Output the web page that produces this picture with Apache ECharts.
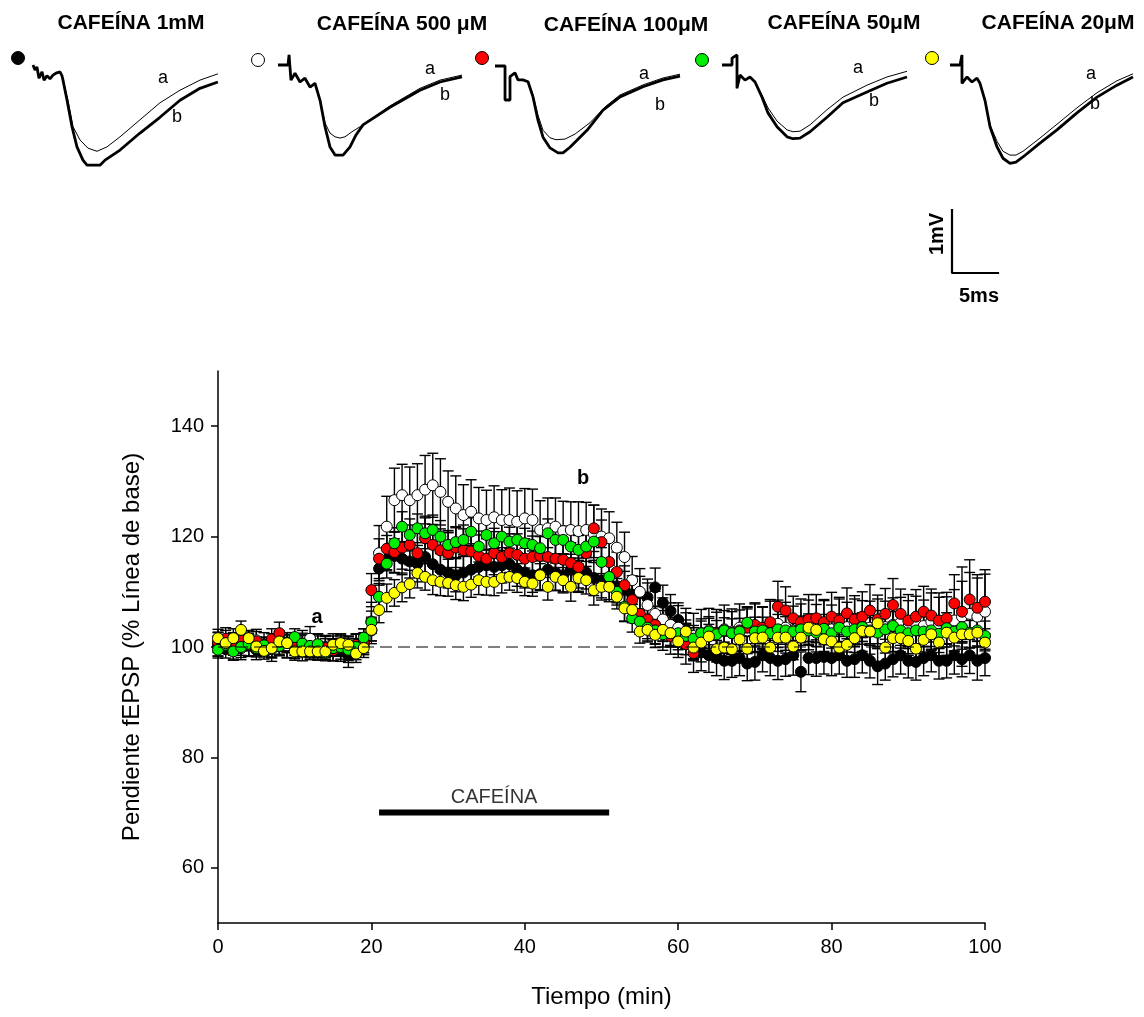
<!DOCTYPE html>
<html>
<head>
<meta charset="utf-8">
<script src="https://cdn.jsdelivr.net/npm/echarts@6/dist/echarts.min.js"></script>
<style>
  html, body { margin: 0; padding: 0; background: #fff; }
  #chart { width: 1144px; height: 1017px; }
</style>
</head>
<body>
<div id="chart"></div>
<script>
// fEPSP slope (% of baseline), one sample per minute, 0–100 min
const cafeina1mM = [
  100.2, 99.6, 100.5, 99.8, 100.3, 99.5, 100.1, 99.7, 100.4, 99.9,
  99.6, 100.2, 99.8, 99.4, 100.0, 99.5, 99.2, 98.5, 99.6, 100.4,
  103.0, 114.2, 117.0, 116.5, 116.0, 115.5, 115.1, 116.3, 115.0, 114.0,
  113.5, 113.0, 113.5, 114.0, 114.5, 114.8, 114.5, 114.8, 115.0, 114.0,
  113.5, 113.0, 113.2, 114.0, 113.5, 113.0, 114.0, 113.0, 113.5, 112.5,
  112.0, 111.5, 111.0, 110.5, 109.5, 109.7, 109.0, 110.8, 108.0, 106.5,
  104.9, 103.0, 100.5, 99.0, 98.5, 98.0, 97.5, 97.5, 98.0, 97.0,
  97.3, 98.5, 98.0, 97.5, 97.8, 98.5, 95.5, 98.0, 98.0, 98.2,
  98.0, 98.5, 97.5, 97.8, 98.5, 97.5, 96.5, 97.0, 97.8, 98.5,
  97.5, 97.3, 98.0, 98.5, 97.5, 97.5, 98.5, 97.8, 98.5, 97.5,
  98.0
];
const cafeina500uM = [
  100.5, 101.0, 100.2, 99.8, 100.6, 101.2, 100.4, 99.9, 100.8, 100.3,
  100.0, 100.6, 101.5, 100.2, 99.8, 100.4, 100.0, 99.6, 100.3, 101.0,
  104.6, 117.0, 121.8, 126.6, 127.5, 126.6, 127.5, 128.5, 129.3, 128.1,
  126.3, 125.1, 123.9, 124.5, 123.3, 123.0, 123.5, 123.0, 123.0, 122.7,
  123.3, 123.0, 121.2, 121.5, 121.8, 121.0, 121.2, 121.0, 121.2, 120.5,
  120.0, 119.7, 118.0, 116.3, 112.1, 110.0, 107.6, 106.0, 105.0, 104.0,
  103.5, 102.8, 102.0, 102.5, 103.0, 102.6, 103.2, 102.8, 103.5, 103.0,
  103.4, 103.0, 103.8, 104.2, 103.5, 103.0, 103.6, 104.0, 103.4, 103.8,
  103.2, 104.0, 103.6, 104.4, 103.8, 103.5, 104.2, 103.6, 104.0, 104.4,
  103.6, 104.2, 103.8, 104.6, 104.0, 103.8, 104.8, 105.5, 106.0, 105.5,
  106.4
];
const cafeina100uM = [
  100.8, 101.5, 100.6, 101.2, 100.4, 101.0, 100.2, 101.4, 102.5, 100.8,
  100.2, 100.6, 100.0, 100.4, 99.8, 99.4, 100.2, 99.6, 100.4, 100.8,
  110.3, 116.0, 117.8, 117.2, 118.0, 118.5, 117.0, 119.7, 118.5, 117.5,
  117.0, 118.0, 117.5, 117.3, 116.5, 116.0, 117.0, 116.3, 117.0, 116.7,
  116.0, 116.3, 116.5, 116.3, 116.0, 115.8, 115.2, 114.5, 117.0, 121.5,
  119.0, 115.4, 113.6, 111.2, 108.5, 106.0, 105.0, 104.0, 103.0, 102.0,
  101.5, 100.5, 98.9, 101.0, 102.0, 102.5, 103.0, 102.5, 103.0, 103.5,
  104.0, 103.5, 104.5, 107.3, 106.6, 105.2, 104.5, 105.0, 105.2, 104.5,
  105.5, 104.8, 106.1, 105.0, 105.5, 106.6, 105.0, 106.0, 107.6, 106.0,
  104.8, 105.5, 106.4, 105.7, 104.8, 105.2, 107.9, 106.4, 108.6, 107.1,
  108.2
];
const cafeina50uM = [
  99.5, 100.4, 99.2, 100.0, 100.6, 99.8, 100.3, 99.6, 100.2, 100.8,
  101.8, 100.6, 100.2, 100.5, 99.0, 99.8, 100.0, 99.5, 100.0, 101.7,
  104.5, 109.1, 115.1, 118.8, 121.8, 120.3, 121.5, 120.6, 121.2, 120.0,
  118.5, 119.0, 119.4, 120.9, 118.2, 120.3, 118.8, 120.0, 119.1, 119.4,
  118.8, 118.5, 117.9, 120.6, 119.4, 119.4, 118.2, 117.6, 118.2, 119.1,
  115.4, 112.7, 110.0, 107.3, 105.2, 104.6, 103.5, 103.0, 102.3, 102.5,
  102.5, 102.0, 101.5, 102.5, 102.8, 102.3, 103.0, 102.5, 102.8, 104.4,
  102.8, 103.0, 102.5, 103.2, 103.0, 102.8, 103.2, 103.0, 102.6, 103.3,
  102.5, 103.5, 102.8, 103.2, 103.6, 103.0, 102.6, 103.2, 103.8, 103.0,
  102.5, 103.0, 102.8, 103.0, 102.4, 103.4, 102.8, 103.6, 102.6, 103.0,
  102.0
];
const cafeina20uM = [
  101.6, 100.7, 101.6, 103.1, 101.6, 100.1, 99.3, 99.8, 101.0, 100.7,
  99.2, 99.2, 99.2, 99.2, 99.2, 100.4, 100.7, 100.4, 98.8, 99.8,
  103.1, 106.7, 108.9, 109.8, 110.8, 111.4, 113.4, 112.7, 112.1, 111.8,
  111.6, 111.2, 110.9, 111.3, 112.1, 111.8, 111.8, 112.5, 112.7, 112.5,
  111.8, 111.5, 113.0, 110.9, 112.7, 112.1, 110.9, 112.5, 112.1, 110.3,
  110.9, 110.9, 109.1, 107.0, 106.7, 102.8, 103.1, 102.2, 103.1, 102.5,
  101.0, 102.8, 99.9, 100.8, 101.9, 99.6, 99.9, 99.6, 101.4, 99.7,
  101.6, 101.7, 99.9, 101.7, 101.7, 100.1, 101.7, 103.5, 103.1, 101.4,
  101.0, 99.9, 100.4, 101.6, 102.9, 102.8, 104.3, 99.9, 101.6, 101.6,
  101.1, 99.7, 101.3, 102.3, 100.8, 102.6, 101.7, 102.3, 102.3, 102.6,
  100.8
];

// standard error of each point
const sem1mM = [
  1.8, 1.6, 2.0, 1.7, 1.9, 1.8, 1.6, 1.7, 2.0, 1.8,
  1.7, 1.9, 1.8, 1.6, 1.9, 2.0, 1.8, 2.2, 1.9, 1.8,
  2.4, 3.0, 3.2, 3.1, 2.9, 3.0, 3.3, 3.1, 3.0, 2.9,
  2.8, 3.0, 2.9, 3.1, 3.0, 2.8, 3.0, 3.2, 2.9, 3.0,
  2.8, 3.1, 3.0, 2.9, 3.2, 3.0, 2.8, 3.1, 3.0, 3.2,
  3.1, 3.3, 3.0, 3.2, 3.4, 3.1, 3.3, 3.5, 3.2, 3.0,
  3.1, 3.2, 3.0, 3.3, 3.1, 3.2, 3.4, 3.0, 3.2, 3.1,
  3.3, 3.0, 3.2, 3.4, 3.1, 3.6, 3.6, 3.0, 3.3, 3.1,
  3.2, 3.4, 3.0, 3.3, 3.2, 3.1, 3.3, 3.0, 3.2, 3.4,
  3.1, 3.3, 3.2, 3.0, 3.3, 3.1, 3.4, 3.2, 3.3, 3.5,
  3.2
];
const sem500uM = [
  2.2, 2.0, 2.4, 2.1, 2.3, 2.0, 2.2, 2.5, 2.1, 2.3,
  2.0, 2.4, 2.2, 2.1, 2.3, 2.0, 2.2, 2.4, 2.1, 2.3,
  3.5, 5.0, 5.5, 5.8, 5.6, 6.0, 5.7, 6.2, 5.8, 6.0,
  5.6, 5.9, 5.5, 5.8, 5.6, 5.4, 5.7, 5.5, 5.8, 5.6,
  5.4, 5.6, 5.3, 5.5, 5.2, 5.4, 5.1, 5.3, 5.0, 5.2,
  5.0, 4.8, 4.6, 4.5, 4.3, 4.2, 4.0, 4.1, 3.9, 4.0,
  4.0, 4.2, 4.1, 4.3, 4.0, 4.2, 4.4, 4.1, 4.3, 4.2,
  4.4, 4.2, 4.5, 4.3, 4.6, 4.4, 4.2, 4.5, 4.3, 4.6,
  4.4, 4.7, 4.5, 4.3, 4.6, 4.8, 4.5, 4.7, 4.9, 4.6,
  4.8, 5.0, 4.7, 5.2, 5.0, 5.3, 5.6, 9.0, 7.5, 7.0,
  6.8
];
const sem100uM = [
  1.8, 2.0, 1.7, 1.9, 2.1, 1.8, 1.6, 1.9, 2.0, 1.8,
  1.7, 1.9, 1.8, 2.0, 1.7, 1.9, 1.8, 2.0, 1.9, 1.8,
  3.0, 3.6, 3.8, 3.7, 3.9, 3.6, 3.8, 4.0, 3.7, 3.9,
  3.8, 3.6, 3.9, 3.7, 3.8, 3.6, 3.9, 3.7, 3.5, 3.8,
  3.6, 3.8, 3.5, 3.7, 3.6, 3.9, 3.7, 3.8, 4.0, 4.2,
  4.0, 3.8, 3.6, 3.5, 3.4, 3.3, 3.5, 3.4, 3.6, 3.3,
  3.4, 3.6, 3.5, 3.7, 3.5, 3.8, 3.6, 3.9, 3.7, 3.8,
  4.0, 3.8, 4.1, 4.6, 4.3, 4.0, 4.2, 4.5, 4.3, 4.1,
  4.4, 4.2, 4.6, 4.3, 4.5, 4.7, 4.4, 4.6, 4.8, 4.5,
  4.7, 4.9, 4.6, 4.8, 5.0, 4.7, 5.2, 5.5, 7.2, 6.0,
  5.8
];
const sem50uM = [
  1.5, 1.4, 1.6, 1.5, 1.3, 1.6, 1.4, 1.5, 1.7, 1.4,
  1.5, 1.6, 1.4, 1.5, 1.3, 1.5, 1.6, 1.4, 1.5, 1.6,
  2.0, 2.4, 2.6, 2.8, 2.7, 2.9, 2.6, 2.8, 2.7, 2.9,
  2.6, 2.8, 2.7, 2.5, 2.8, 2.6, 2.7, 2.9, 2.6, 2.8,
  2.7, 2.5, 2.8, 2.6, 2.7, 2.5, 2.8, 2.6, 2.7, 2.9,
  2.6, 2.5, 2.4, 2.6, 2.5, 2.3, 2.4, 2.5, 2.3, 2.4,
  2.5, 2.3, 2.4, 2.6, 2.4, 2.5, 2.3, 2.6, 2.4, 2.5,
  2.6, 2.4, 2.5, 2.7, 2.5, 2.6, 2.4, 2.7, 2.5, 2.6,
  2.7, 2.5, 2.6, 2.8, 2.6, 2.7, 2.5, 2.8, 2.6, 2.7,
  2.8, 2.6, 2.7, 2.9, 2.7, 2.8, 2.6, 2.9, 2.7, 2.8,
  2.7
];
const sem20uM = [
  1.6, 1.5, 1.7, 1.6, 1.4, 1.7, 1.5, 1.6, 1.8, 1.5,
  1.6, 1.7, 1.5, 1.6, 1.4, 1.6, 1.7, 1.5, 1.6, 1.7,
  2.0, 2.3, 2.5, 2.4, 2.6, 2.5, 2.7, 2.4, 2.6, 2.5,
  2.4, 2.6, 2.5, 2.3, 2.6, 2.4, 2.5, 2.7, 2.4, 2.6,
  2.5, 2.3, 2.6, 2.4, 2.5, 2.3, 2.6, 2.4, 2.5, 2.7,
  2.4, 2.3, 2.2, 2.4, 2.3, 2.1, 2.2, 2.3, 2.1, 2.2,
  2.3, 2.1, 2.2, 2.4, 2.2, 2.3, 2.1, 2.4, 2.2, 2.3,
  2.4, 2.2, 2.3, 2.5, 2.3, 2.4, 2.2, 2.5, 2.3, 2.4,
  2.5, 2.3, 2.4, 2.6, 2.4, 2.5, 2.3, 2.6, 2.4, 2.5,
  2.6, 2.4, 2.5, 2.7, 2.5, 2.6, 2.4, 2.7, 2.5, 2.6,
  2.5
];

const ticksX = [0, 20, 40, 60, 80, 100];
const ticksY = [60, 80, 100, 120, 140];
const lineaBase = 100;
const cafeinaInicio = 21, cafeinaFin = 51, cafeinaNivel = 70;

// representative fEPSP traces [ms, mV]; a = baseline, b = during caffeine
const trazo1a = [[0,0],[0.22,-0.08],[0.43,-0.03],[0.65,-0.21],[0.98,-0.11],[1.2,-0.24],[1.52,-0.17],[1.85,-0.22],[2.17,-0.16],[2.5,-0.13],[2.93,-0.11],[3.15,-0.17],[3.26,-0.24],[3.8,-0.56],[4.35,-0.98],[5.11,-1.19],[5.98,-1.32],[6.96,-1.37],[8.04,-1.3],[9.46,-1.14],[11.63,-0.87],[13.8,-0.6],[15.98,-0.4],[18.15,-0.24],[20.1,-0.14]];
const trazo1b = [[0,0],[0.22,-0.08],[0.43,-0.03],[0.65,-0.21],[0.98,-0.11],[1.2,-0.24],[1.52,-0.17],[1.85,-0.22],[2.17,-0.16],[2.5,-0.13],[2.93,-0.11],[3.15,-0.17],[3.26,-0.24],[3.7,-0.56],[4.24,-0.98],[4.78,-1.3],[5.43,-1.51],[5.87,-1.59],[7.28,-1.59],[7.83,-1.51],[9.46,-1.35],[11.63,-1.08],[13.8,-0.83],[15.98,-0.56],[18.15,-0.37],[20.1,-0.27]];
const trazo2a = [[0,0],[1.09,0],[1.2,0.16],[1.41,-0.24],[1.85,-0.13],[2.39,-0.27],[2.93,-0.21],[3.48,-0.35],[4.02,-0.29],[4.57,-0.56],[5.11,-0.92],[5.65,-1.08],[6.2,-1.14],[6.74,-1.16],[7.28,-1.14],[8.04,-1.06],[9.24,-0.95],[12.17,-0.65],[15.43,-0.37],[17.61,-0.24],[20,-0.16]];
const trazo2b = [[0,0],[1.09,0],[1.2,0.16],[1.41,-0.24],[1.85,-0.13],[2.39,-0.27],[2.93,-0.21],[3.48,-0.35],[4.02,-0.29],[4.57,-0.56],[5.11,-0.98],[5.65,-1.3],[6.2,-1.43],[7.07,-1.43],[7.83,-1.3],[8.48,-1.11],[9.24,-0.95],[12.17,-0.67],[15.43,-0.4],[17.61,-0.27],[20,-0.19]];
const trazo3a = [[0,0],[1.09,0],[1.09,-0.54],[1.63,-0.54],[1.63,-0.17],[2.17,-0.11],[2.5,-0.22],[3.04,-0.22],[3.59,-0.25],[4.13,-0.46],[4.67,-0.78],[5.22,-1.02],[5.98,-1.14],[6.63,-1.17],[7.61,-1.16],[8.7,-1.08],[10.33,-0.9],[11.96,-0.65],[13.59,-0.46],[16.09,-0.3],[18.26,-0.19],[20.11,-0.13]];
const trazo3b = [[0,0],[1.09,0],[1.09,-0.54],[1.63,-0.54],[1.63,-0.17],[2.17,-0.11],[2.5,-0.22],[3.04,-0.22],[3.59,-0.25],[4.13,-0.49],[4.67,-0.86],[5.22,-1.13],[5.98,-1.3],[6.85,-1.38],[7.39,-1.38],[8.15,-1.29],[10,-1.02],[11.74,-0.7],[13.59,-0.49],[16.09,-0.33],[18.26,-0.22],[20.11,-0.16]];
const trazo4a = [[0,0],[1.09,0],[1.09,0.11],[1.63,0.16],[1.63,-0.37],[1.96,-0.16],[2.5,-0.24],[3.04,-0.19],[3.59,-0.27],[4.35,-0.48],[5,-0.68],[5.98,-0.89],[7.07,-1.03],[7.72,-1.06],[8.48,-1.05],[9.57,-0.95],[11.41,-0.71],[13.15,-0.51],[15.76,-0.32],[17.93,-0.19],[20.11,-0.1]];
const trazo4b = [[0,0],[1.09,0],[1.09,0.11],[1.63,0.16],[1.63,-0.37],[1.96,-0.16],[2.5,-0.24],[3.04,-0.19],[3.59,-0.27],[4.35,-0.51],[5,-0.76],[5.98,-0.98],[7.07,-1.14],[7.72,-1.17],[8.48,-1.16],[9.57,-1.06],[11.41,-0.83],[13.15,-0.6],[15.76,-0.43],[17.93,-0.29],[20.11,-0.19]];
const trazo5a = [[0,0],[1.09,0],[1.3,0.16],[1.3,-0.29],[1.85,-0.19],[2.39,-0.27],[2.93,-0.21],[3.26,-0.29],[3.8,-0.56],[4.35,-0.95],[5.11,-1.21],[5.76,-1.37],[6.52,-1.43],[7.17,-1.43],[7.93,-1.37],[9.78,-1.16],[11.63,-0.94],[13.8,-0.68],[15.98,-0.44],[18.15,-0.25],[19.89,-0.14]];
const trazo5b = [[0,0],[1.09,0],[1.3,0.16],[1.3,-0.29],[1.85,-0.19],[2.39,-0.27],[2.93,-0.21],[3.26,-0.29],[3.8,-0.56],[4.35,-0.98],[5.11,-1.3],[5.76,-1.48],[6.52,-1.56],[7.17,-1.54],[7.93,-1.46],[9.78,-1.24],[11.63,-1.03],[13.8,-0.76],[15.98,-0.51],[18.15,-0.32],[19.89,-0.19]];

// calibration bar: 1 mV, 5 ms
const barraEscala = [[0, 1], [0, 0], [5, 0]];

const FONT = '"Liberation Sans", Arial, Helvetica, sans-serif';

const grupos = [
  { titulo: 'CAFEÍNA 1mM',    color: '#000000', valores: cafeina1mM,   sem: sem1mM,   a: trazo1a, b: trazo1b },
  { titulo: 'CAFEÍNA 500 μM', color: '#ffffff', valores: cafeina500uM, sem: sem500uM, a: trazo2a, b: trazo2b },
  { titulo: 'CAFEÍNA 100μM',  color: '#ff0000', valores: cafeina100uM, sem: sem100uM, a: trazo3a, b: trazo3b },
  { titulo: 'CAFEÍNA 50μM',   color: '#00ee00', valores: cafeina50uM,  sem: sem50uM,  a: trazo4a, b: trazo4b },
  { titulo: 'CAFEÍNA 20μM',   color: '#ffff00', valores: cafeina20uM,  sem: sem20uM,  a: trazo5a, b: trazo5b }
];

// layout of the trace insets (pixel placement of each small panel)
const MS_PX = 9.2, MV_PX = 63;
const insetLayout = [
  { left: 33,  top: 65 },
  { left: 278, top: 65 },
  { left: 495, top: 66 },
  { left: 722, top: 65 },
  { left: 950, top: 65 }
];
const T_MAX = 21, V_MIN = -1.8, V_MAX = 0.4;

const grids = [{ left: 218, top: 371, width: 767, height: 552, outerBoundsMode: 'none' }];
const xAxes = [{
  gridIndex: 0, type: 'value', min: 0, max: 100, interval: 20,
  axisLine: { show: true, onZero: false, lineStyle: { color: '#000', width: 1.5 } },
  axisTick: { show: true, length: 7, customValues: ticksX, lineStyle: { color: '#000', width: 1.5 } },
  axisLabel: { color: '#000', fontSize: 20, fontFamily: FONT, margin: 14, customValues: ticksX },
  splitLine: { show: false },
  name: 'Tiempo (min)', nameLocation: 'middle', nameGap: 62,
  nameTextStyle: { color: '#000', fontSize: 24, fontFamily: FONT }
}];
const yAxes = [{
  gridIndex: 0, type: 'value', min: 50, max: 150,
  axisLine: { show: true, onZero: false, lineStyle: { color: '#000', width: 1.5 } },
  axisTick: { show: true, length: 7, customValues: ticksY, lineStyle: { color: '#000', width: 1.5 } },
  axisLabel: { color: '#000', fontSize: 20, fontFamily: FONT, margin: 14, customValues: ticksY },
  splitLine: { show: false },
  name: 'Pendiente fEPSP (% Línea de base)', nameLocation: 'middle', nameGap: 74, nameRotate: 90,
  nameTextStyle: { color: '#000', fontSize: 24, fontFamily: FONT }
}];

insetLayout.forEach((p, i) => {
  grids.push({
    left: p.left, top: p.top - V_MAX * MV_PX,
    width: T_MAX * MS_PX, height: (V_MAX - V_MIN) * MV_PX, outerBoundsMode: 'none'
  });
  xAxes.push({ gridIndex: i + 1, type: 'value', min: 0, max: T_MAX, show: false });
  yAxes.push({ gridIndex: i + 1, type: 'value', min: V_MIN, max: V_MAX, show: false });
});
// calibration bar panel
grids.push({ left: 952, top: 210, width: 5 * MS_PX, height: 1 * MV_PX, outerBoundsMode: 'none' });
xAxes.push({ gridIndex: 6, type: 'value', min: 0, max: 5, show: false });
yAxes.push({ gridIndex: 6, type: 'value', min: 0, max: 1, show: false });

function errorBars(valores, sem) {
  return {
    type: 'custom',
    xAxisIndex: 0, yAxisIndex: 0,
    silent: true,
    data: valores.map((v, i) => [i, v - sem[i], v + sem[i]]),
    encode: { x: 0, y: [1, 2] },
    renderItem: (params, api) => {
      const x = api.value(0);
      const lo = api.coord([x, api.value(1)]);
      const hi = api.coord([x, api.value(2)]);
      const hw = 5.5;
      const st = { stroke: '#000', lineWidth: 1.4 };
      return {
        type: 'group',
        children: [
          { type: 'line', shape: { x1: lo[0], y1: lo[1], x2: hi[0], y2: hi[1] }, style: st },
          { type: 'line', shape: { x1: hi[0] - hw, y1: hi[1], x2: hi[0] + hw, y2: hi[1] }, style: st },
          { type: 'line', shape: { x1: lo[0] - hw, y1: lo[1], x2: lo[0] + hw, y2: lo[1] }, style: st }
        ]
      };
    }
  };
}

const series = [];
// 100 % baseline reference
series.push({
  type: 'line', xAxisIndex: 0, yAxisIndex: 0, silent: true, symbol: 'none',
  data: [[0, lineaBase], [100, lineaBase]],
  lineStyle: { color: '#000', width: 1, type: [12, 6] }
});
// caffeine application bar
series.push({
  type: 'line', xAxisIndex: 0, yAxisIndex: 0, silent: true, symbol: 'none',
  data: [[cafeinaInicio, cafeinaNivel], [cafeinaFin, cafeinaNivel]],
  lineStyle: { color: '#000', width: 6, cap: 'butt' }
});
series.push({
  type: 'scatter', xAxisIndex: 0, yAxisIndex: 0, silent: true, symbolSize: 0,
  data: [[(cafeinaInicio + cafeinaFin) / 2, cafeinaNivel]],
  label: { show: true, position: 'top', distance: 5, formatter: 'CAFEÍNA',
           color: '#000', fontSize: 20, fontFamily: FONT }
});

grupos.forEach(g => {
  series.push(errorBars(g.valores, g.sem));
  series.push({
    type: 'scatter', xAxisIndex: 0, yAxisIndex: 0, name: g.titulo,
    symbol: 'circle', symbolSize: 11,
    data: g.valores.map((v, i) => [i, v]),
    itemStyle: { color: g.color, borderColor: '#000', borderWidth: 1, opacity: 1 }
  });
});

grupos.forEach((g, i) => {
  series.push({
    type: 'line', xAxisIndex: i + 1, yAxisIndex: i + 1, symbol: 'none', silent: true,
    data: g.b, lineStyle: { color: '#000', width: 2.8 }
  });
  series.push({
    type: 'line', xAxisIndex: i + 1, yAxisIndex: i + 1, symbol: 'none', silent: true,
    data: g.a, lineStyle: { color: '#000', width: 1 }
  });
});
series.push({
  type: 'line', xAxisIndex: 6, yAxisIndex: 6, symbol: 'none', silent: true,
  data: barraEscala, lineStyle: { color: '#000', width: 2.2, cap: 'square' }
});

// panel titles, legend symbols and trace labels
const titulosPos = [[131, 23], [402, 24], [626, 25], [844, 23], [1058, 23]];
const simbolosPos = [[18, 58], [258, 60], [482, 58], [702, 60], [932, 58]];
const etiquetasAPos = [[163, 78], [430, 69], [644, 74], [858, 68], [1091, 74]];
const etiquetasBPos = [[177, 117], [445, 95], [660, 105], [874, 101], [1095, 104]];

const graphic = [];
grupos.forEach((g, i) => {
  graphic.push({
    type: 'text', x: titulosPos[i][0], y: titulosPos[i][1], silent: true,
    style: { text: g.titulo, fill: '#000', font: 'bold 21px ' + FONT,
             textAlign: 'center', textVerticalAlign: 'middle' }
  });
  graphic.push({
    type: 'circle', shape: { cx: simbolosPos[i][0], cy: simbolosPos[i][1], r: 6.5 }, silent: true,
    style: { fill: g.color, stroke: '#000', lineWidth: 1 }
  });
  graphic.push({
    type: 'text', x: etiquetasAPos[i][0], y: etiquetasAPos[i][1], silent: true,
    style: { text: 'a', fill: '#000', font: '18px ' + FONT, textAlign: 'center', textVerticalAlign: 'middle' }
  });
  graphic.push({
    type: 'text', x: etiquetasBPos[i][0], y: etiquetasBPos[i][1], silent: true,
    style: { text: 'b', fill: '#000', font: '18px ' + FONT, textAlign: 'center', textVerticalAlign: 'middle' }
  });
});
graphic.push({
  type: 'text', x: 937, y: 234, rotation: Math.PI / 2, silent: true,
  style: { text: '1mV', fill: '#000', font: 'bold 20px ' + FONT, textAlign: 'center', textVerticalAlign: 'middle' }
});
graphic.push({
  type: 'text', x: 979, y: 296, silent: true,
  style: { text: '5ms', fill: '#000', font: 'bold 20px ' + FONT, textAlign: 'center', textVerticalAlign: 'middle' }
});
// time points of the sample traces on the time course
graphic.push({
  type: 'text', x: 317, y: 617, silent: true,
  style: { text: 'a', fill: '#000', font: 'bold 20px ' + FONT, textAlign: 'center', textVerticalAlign: 'middle' }
});
graphic.push({
  type: 'text', x: 583, y: 478, silent: true,
  style: { text: 'b', fill: '#000', font: 'bold 20px ' + FONT, textAlign: 'center', textVerticalAlign: 'middle' }
});

const chart = echarts.init(document.getElementById('chart'), null, { renderer: 'canvas' });
chart.setOption({
  backgroundColor: '#ffffff',
  animation: false,
  grid: grids,
  xAxis: xAxes,
  yAxis: yAxes,
  series: series,
  graphic: graphic
});
</script>
</body>
</html>
